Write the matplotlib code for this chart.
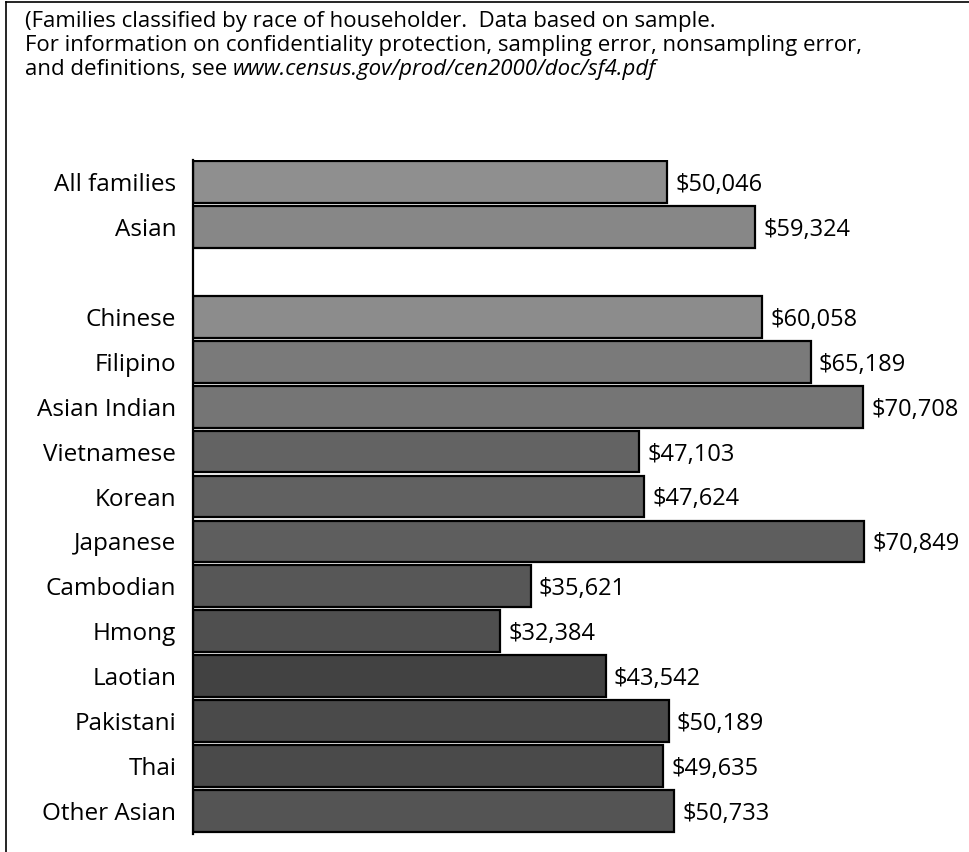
import matplotlib
matplotlib.use("Agg")
import matplotlib.pyplot as plt
from matplotlib.lines import Line2D

categories = ["All families", "Asian", "Chinese", "Filipino", "Asian Indian",
              "Vietnamese", "Korean", "Japanese", "Cambodian", "Hmong",
              "Laotian", "Pakistani", "Thai", "Other Asian"]
values = [50046, 59324, 60058, 65189, 70708, 47103, 47624, 70849,
          35621, 32384, 43542, 50189, 49635, 50733]
value_labels = ["$50,046", "$59,324", "$60,058", "$65,189", "$70,708",
                "$47,103", "$47,624", "$70,849", "$35,621", "$32,384",
                "$43,542", "$50,189", "$49,635", "$50,733"]
positions = [0, 1, 3, 4, 5, 6, 7, 8, 9, 10, 11, 12, 13, 14]
grays = [0.56, 0.53, 0.55, 0.48, 0.46, 0.39, 0.38, 0.37,
         0.34, 0.31, 0.26, 0.29, 0.29, 0.33]

title_lines = ["(Families classified by race of householder.  Data based on sample.",
               "For information on confidentiality protection, sampling error, nonsampling error,"]
line3_plain = "and definitions, see "
line3_italic = "www.census.gov/prod/cen2000/doc/sf4.pdf"

plt.rcParams['font.family'] = ['Open Sans', 'DejaVu Sans']

W, H = 969, 852
fig = plt.figure(figsize=(W / 100, H / 100), dpi=100)
fig.patch.set_facecolor("white")

left = 193 / W
right = 951 / W
top_px, bot_px = 159.5, 833.5
ax = fig.add_axes([left, (H - bot_px) / H, right - left, (bot_px - top_px) / H])

colors = [(g, g, g) for g in grays]
ax.barh(positions, values, height=0.93, color=colors, edgecolor="black",
        linewidth=1.6, left=0)
ax.set_xlim(0, 80000)
ax.set_ylim(14.5, -0.5)
ax.set_yticks(positions)
ax.set_yticklabels(categories, fontsize=17.5)
ax.tick_params(axis="y", length=0, pad=12)
ax.set_xticks([])
for s in ["top", "right", "bottom"]:
    ax.spines[s].set_visible(False)
ax.spines["left"].set_linewidth(1.6)

for p, v, lab in zip(positions, values, value_labels):
    ax.annotate(lab, xy=(v, p), xytext=(6, 0), textcoords="offset points",
                va="center_baseline", ha="left", fontsize=17)

# header text
fs = 16
fig.text(25 / W, 1 - 22 / H, title_lines[0], fontsize=fs, va="center", ha="left")
fig.text(25 / W, 1 - 46 / H, title_lines[1], fontsize=fs, va="center", ha="left")
t3 = fig.text(25 / W, 1 - 70 / H, line3_plain, fontsize=fs, va="center", ha="left")
fig.add_artist(plt.Annotation(line3_italic, xy=(1, 0.5), xycoords=t3,
                              va="center", ha="left", fontsize=fs,
                              style="italic"))

# frame lines (left and top)
fig.add_artist(Line2D([6 / W, 6 / W], [0, 1 - 1.5 / H], transform=fig.transFigure,
                      color="black", linewidth=1.2))
fig.add_artist(Line2D([6 / W, 1], [1 - 1.5 / H, 1 - 1.5 / H], transform=fig.transFigure,
                      color="black", linewidth=1.2))

fig.savefig("out.png", dpi=100, facecolor="white")
